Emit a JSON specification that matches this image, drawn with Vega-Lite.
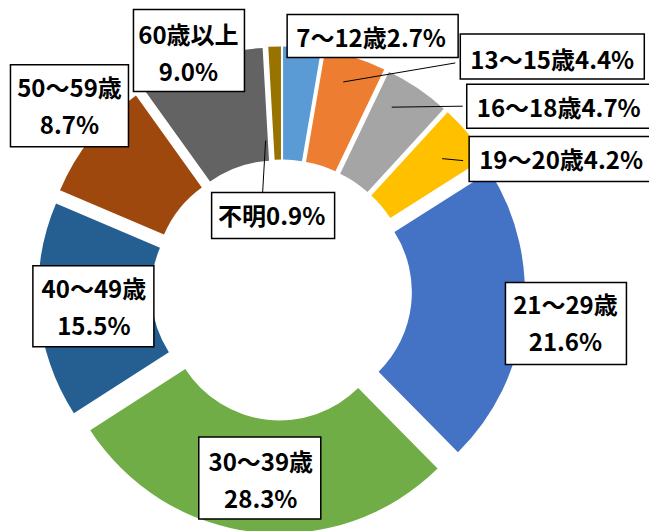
{
  "$schema": "https://vega.github.io/schema/vega-lite/v6.json",
  "width": 649,
  "height": 531,
  "padding": 0,
  "autosize": {"type": "none"},
  "background": "white",
  "config": {
    "view": {"stroke": null},
    "text": {"font": "Noto Sans CJK JP", "fontSize": 24, "fontWeight": "bold", "lineHeight": 37, "lineBreak": "\n", "align": "center", "baseline": "middle", "color": "black"},
    "rect": {"fill": "white", "stroke": "black", "strokeWidth": 1.5},
    "rule": {"stroke": "black", "strokeWidth": 1}
  },
  "data": {
    "values": [
      {"age": "7～12歳", "pct": 2.7},
      {"age": "13～15歳", "pct": 4.4},
      {"age": "16～18歳", "pct": 4.7},
      {"age": "19～20歳", "pct": 4.2},
      {"age": "21～29歳", "pct": 21.6},
      {"age": "30～39歳", "pct": 28.3},
      {"age": "40～49歳", "pct": 15.5},
      {"age": "50～59歳", "pct": 8.7},
      {"age": "60歳以上", "pct": 9.0},
      {"age": "不明", "pct": 0.9}
    ]
  },
  "transform": [
    {"window": [{"op": "sum", "field": "pct", "as": "t1"}]},
    {"calculate": "datum.t1 - datum.pct", "as": "t0"},
    {"calculate": "PI * (datum.t0 + datum.t1) / 100", "as": "ang"},
    {"calculate": "18.5 * sin(datum.ang)", "as": "ex"},
    {"calculate": "-18.5 * cos(datum.ang)", "as": "ey"},
    {"calculate": "243.5 * sin(datum.ang)", "as": "ox"},
    {"calculate": "-243.5 * cos(datum.ang)", "as": "oy"},
    {"calculate": "datum.pct >= 8 ? datum.age + '\\n' + format(datum.pct, '.1f') + '%' : datum.age + format(datum.pct, '.1f') + '%'", "as": "label"}
  ],
  "layer": [
    {
      "mark": {"type": "arc", "radius": 225, "radius2": 112},
      "encoding": {
        "x": {"field": "ex", "type": "quantitative", "scale": {"domain": [-281.5, 367.5], "nice": false, "zero": false}, "axis": null},
        "y": {"field": "ey", "type": "quantitative", "scale": {"domain": [-290, 241], "reverse": true, "nice": false, "zero": false}, "axis": null},
        "theta": {"field": "t0", "type": "quantitative", "scale": {"domain": [0, 100]}, "stack": null},
        "theta2": {"field": "t1"},
        "color": {
          "field": "age", "type": "nominal", "legend": null,
          "scale": {
            "domain": ["7～12歳", "13～15歳", "16～18歳", "19～20歳", "21～29歳", "30～39歳", "40～49歳", "50～59歳", "60歳以上", "不明"],
            "range": ["#5B9BD5", "#ED7D31", "#A5A5A5", "#FFC000", "#4472C4", "#70AD47", "#255E91", "#9E480E", "#636363", "#997300"]
          }
        }
      }
    },
    {
      "encoding": {
        "x": {"field": "ox", "type": "quantitative", "scale": {"domain": [-281.5, 367.5], "nice": false, "zero": false}, "axis": null},
        "y": {"field": "oy", "type": "quantitative", "scale": {"domain": [-290, 241], "reverse": true, "nice": false, "zero": false}, "axis": null}
      },
      "layer": [
        {"transform": [{"filter": {"field": "age", "equal": "7～12歳"}}], "layer": [
          {"mark": {"type": "rect", "xOffset": -15, "x2Offset": 156, "yOffset": -33, "y2Offset": 10}, "encoding": {"x2": {"field": "ox"}, "y2": {"field": "oy"}}},
          {"mark": {"type": "text", "dx": 69, "dy": -7}, "encoding": {"text": {"field": "label"}}}
        ]},
        {"transform": [{"filter": {"field": "age", "equal": "13～15歳"}}], "layer": [
          {"mark": {"type": "rule", "xOffset": -12, "yOffset": 24, "x2Offset": 100, "y2Offset": 5}, "encoding": {"x2": {"field": "ox"}, "y2": {"field": "oy"}}},
          {"mark": {"type": "rect", "xOffset": 105, "x2Offset": 289, "yOffset": -24, "y2Offset": 21}, "encoding": {"x2": {"field": "ox"}, "y2": {"field": "oy"}}},
          {"mark": {"type": "text", "dx": 197, "dy": 4}, "encoding": {"text": {"field": "label"}}}
        ]},
        {"transform": [{"filter": {"field": "age", "equal": "16～18歳"}}], "layer": [
          {"mark": {"type": "rule", "xOffset": -26, "yOffset": 19, "x2Offset": 45, "y2Offset": 18}, "encoding": {"x2": {"field": "ox"}, "y2": {"field": "oy"}}},
          {"mark": {"type": "rect", "xOffset": 49, "x2Offset": 233, "yOffset": -4, "y2Offset": 40}, "encoding": {"x2": {"field": "ox"}, "y2": {"field": "oy"}}},
          {"mark": {"type": "text", "dx": 141, "dy": 22}, "encoding": {"text": {"field": "label"}}}
        ]},
        {"transform": [{"filter": {"field": "age", "equal": "19～20歳"}}], "layer": [
          {"mark": {"type": "rule", "xOffset": -26, "yOffset": 25, "x2Offset": -5, "y2Offset": 27}, "encoding": {"x2": {"field": "ox"}, "y2": {"field": "oy"}}},
          {"mark": {"type": "rect", "xOffset": 1, "x2Offset": 185, "yOffset": 3, "y2Offset": 48}, "encoding": {"x2": {"field": "ox"}, "y2": {"field": "oy"}}},
          {"mark": {"type": "text", "dx": 93, "dy": 28}, "encoding": {"text": {"field": "label"}}}
        ]},
        {"transform": [{"filter": {"field": "age", "equal": "21～29歳"}}], "layer": [
          {"mark": {"type": "rect", "xOffset": -18, "x2Offset": 103, "yOffset": -35, "y2Offset": 47}, "encoding": {"x2": {"field": "ox"}, "y2": {"field": "oy"}}},
          {"mark": {"type": "text", "dx": 42, "dy": -10.5}, "encoding": {"text": {"field": "label"}}}
        ]},
        {"transform": [{"filter": {"field": "age", "equal": "30～39歳"}}], "layer": [
          {"mark": {"type": "rect", "xOffset": -56, "x2Offset": 66, "yOffset": -95, "y2Offset": -13}, "encoding": {"x2": {"field": "ox"}, "y2": {"field": "oy"}}},
          {"mark": {"type": "text", "dx": 6, "dy": -68.5}, "encoding": {"text": {"field": "label"}}}
        ]},
        {"transform": [{"filter": {"field": "age", "equal": "40～49歳"}}], "layer": [
          {"mark": {"type": "rect", "xOffset": -6, "x2Offset": 115, "yOffset": -45, "y2Offset": 36}, "encoding": {"x2": {"field": "ox"}, "y2": {"field": "oy"}}},
          {"mark": {"type": "text", "dx": 55, "dy": -19.5}, "encoding": {"text": {"field": "label"}}}
        ]},
        {"transform": [{"filter": {"field": "age", "equal": "50～59歳"}}], "layer": [
          {"mark": {"type": "rect", "xOffset": -81, "x2Offset": 37, "yOffset": -73, "y2Offset": 9}, "encoding": {"x2": {"field": "ox"}, "y2": {"field": "oy"}}},
          {"mark": {"type": "text", "dx": -22, "dy": -47.5}, "encoding": {"text": {"field": "label"}}}
        ]},
        {"transform": [{"filter": {"field": "age", "equal": "60歳以上"}}], "layer": [
          {"mark": {"type": "rect", "xOffset": -67, "x2Offset": 44, "yOffset": -51, "y2Offset": 31}, "encoding": {"x2": {"field": "ox"}, "y2": {"field": "oy"}}},
          {"mark": {"type": "text", "dx": -12, "dy": -23.5}, "encoding": {"text": {"field": "label"}}}
        ]},
        {"transform": [{"filter": {"field": "age", "equal": "不明"}}], "layer": [
          {"mark": {"type": "rule", "xOffset": -9, "yOffset": 94, "x2Offset": -12, "y2Offset": 146}, "encoding": {"x2": {"field": "ox"}, "y2": {"field": "oy"}}},
          {"mark": {"type": "rect", "xOffset": -63, "x2Offset": 60, "yOffset": 146, "y2Offset": 192}, "encoding": {"x2": {"field": "ox"}, "y2": {"field": "oy"}}},
          {"mark": {"type": "text", "dx": -3, "dy": 171}, "encoding": {"text": {"field": "label"}}}
        ]}
      ]
    }
  ]
}
